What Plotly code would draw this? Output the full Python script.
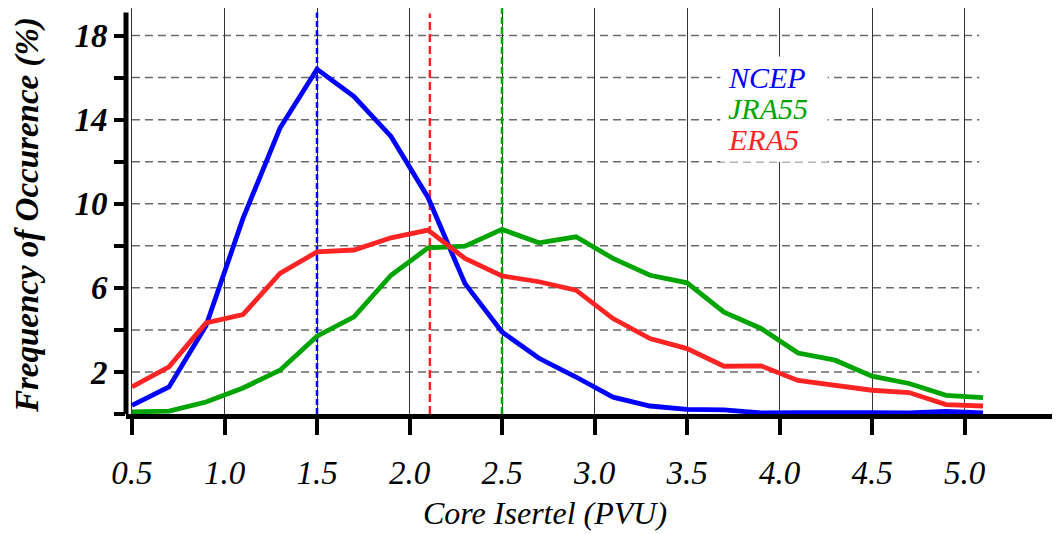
import plotly.graph_objects as go

# ---- data ----
core_pvu = [0.5, 0.7, 0.9, 1.1, 1.3, 1.5, 1.7, 1.9, 2.1, 2.3, 2.5, 2.7,
            2.9, 3.1, 3.3, 3.5, 3.7, 3.9, 4.1, 4.3, 4.5, 4.7, 4.9, 5.1]
ncep = [0.41, 1.29, 4.2, 9.3, 13.6, 16.4, 15.1, 13.2, 10.3, 6.2, 3.9, 2.65,
        1.76, 0.8, 0.38, 0.22, 0.2, 0.05, 0.06, 0.08, 0.06, 0.05, 0.12, 0.05]
jra55 = [0.1, 0.14, 0.57, 1.24, 2.08, 3.7, 4.62, 6.6, 7.9, 7.98, 8.78, 8.14,
         8.43, 7.4, 6.6, 6.24, 4.84, 4.07, 2.9, 2.56, 1.8, 1.45, 0.89, 0.78]
era5 = [1.29, 2.24, 4.33, 4.73, 6.69, 7.71, 7.8, 8.38, 8.75, 7.4, 6.57, 6.29,
        5.89, 4.54, 3.59, 3.11, 2.27, 2.29, 1.6, 1.37, 1.13, 1.02, 0.45, 0.38]
series_names = ["NCEP", "JRA55", "ERA5"]
series_colors = ["#0000ff", "#00a400", "#ff2424"]
mean_values = [1.5, 2.5, 2.11]          # vertical dashed lines (NCEP, JRA55, ERA5)
x_tickvals = [0.5, 1.0, 1.5, 2.0, 2.5, 3.0, 3.5, 4.0, 4.5, 5.0]
y_tickvals = [0, 2, 4, 6, 8, 10, 12, 14, 16, 18]
y_ticktext = ["", "2", "", "6", "", "10", "", "14", "", "18"]

FONT = "Liberation Serif"
XR = [0.4676, 5.516]
YR = [0, 19.31]

fig = go.Figure()

# horizontal dashed grid lines
shapes = []
for yv in y_tickvals[1:]:
    shapes.append(dict(type="line", xref="x", yref="y", x0=0.5, x1=5.08, y0=yv, y1=yv,
                       line=dict(color="#6a6a6a", width=1.5, dash="8px,5px"), layer="below"))

# mean lines
mean_dash = ["6px,3px", "7px,3px", "8px,4px"]
mean_top = [19.1, 19.3, 19.05]
for m, c, d, t in zip(mean_values, series_colors, mean_dash, mean_top):
    fig.add_trace(go.Scatter(x=[m, m], y=[0, t], mode="lines",
                             line=dict(color=c, width=2.5, dash=d),
                             showlegend=False, hoverinfo="skip"))

for name, vals, col in zip(series_names, [ncep, jra55, era5], series_colors):
    fig.add_trace(go.Scatter(x=core_pvu, y=vals, mode="lines", name=name,
                             line=dict(color=col, width=4.8), showlegend=False))

# y axis line
shapes.append(dict(type="line", xref="paper", yref="y", x0=0, x1=0, y0=0, y1=19.1,
                   line=dict(color="black", width=5), layer="above"))
# legend background
shapes.append(dict(type="rect", xref="x", yref="y", x0=3.68, x1=4.26, y0=12.0, y1=17.0,
                   fillcolor="white", line=dict(width=0), layer="above"))

annotations = []
leg_y = [16.0, 14.55, 13.05]
for name, col, yy in zip(series_names, series_colors, leg_y):
    annotations.append(dict(x=3.71, y=yy, xref="x", yref="y", text=name, showarrow=False,
                            xanchor="left", yanchor="middle",
                            font=dict(family=FONT, size=30, color=col, style="italic")))
# axis titles
annotations.append(dict(x=2.73, y=-0.245, xref="x", yref="paper",
                        text="Core Isertel (PVU)",
                        showarrow=False, xanchor="center", yanchor="middle",
                        font=dict(family=FONT, size=32, color="black", style="italic")))
annotations.append(dict(x=-0.106, y=0.49, xref="paper", yref="paper",
                        text="Frequency of Occurence (%)", textangle=-90,
                        showarrow=False, xanchor="center", yanchor="middle",
                        font=dict(family=FONT, size=33, color="black", style="italic",
                                  weight="bold")))

# page body has an 8px margin: shrink the figure so the plot sits where the reference's does
fig.update_layout(
    width=1052, height=526,
    margin=dict(l=118, r=0, t=0, b=120),
    paper_bgcolor="white", plot_bgcolor="white",
    shapes=shapes, annotations=annotations,
    xaxis=dict(range=XR, tickvals=x_tickvals, tickformat=".1f",
               showgrid=True, gridcolor="#333333", gridwidth=1,
               zeroline=False, showline=True, linecolor="black", linewidth=5,
               ticks="outside", ticklen=16, tickwidth=4, tickcolor="black",
               ticklabelstandoff=9,
               tickfont=dict(family=FONT, size=33, color="black", style="italic")),
    yaxis=dict(range=YR, tickvals=y_tickvals, ticktext=y_ticktext,
               showgrid=False, zeroline=False, showline=False,
               ticks="outside", ticklen=11, tickwidth=4, tickcolor="black",
               tickfont=dict(family=FONT, size=33, color="black", style="italic",
                             weight="bold")),
)

fig.write_html("out.html")
